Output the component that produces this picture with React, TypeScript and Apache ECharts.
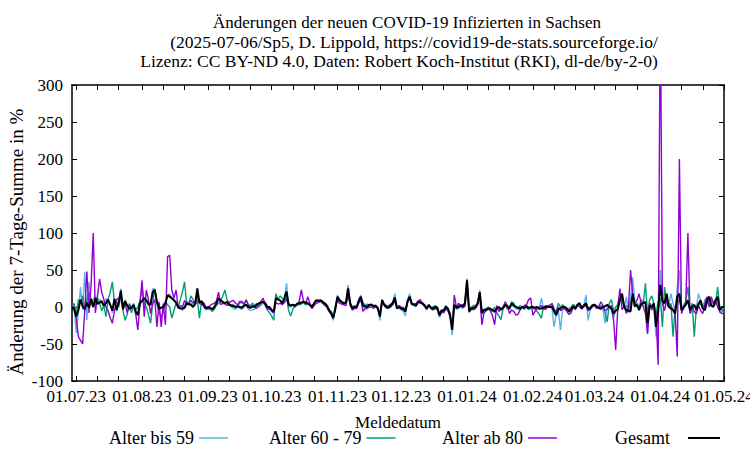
import React, { useEffect, useRef } from "react";
import * as echarts from "echarts";

const DAY_COUNT = 308; // 29.06.23 .. 01.05.24
const tickLabels = ["01.07.23", "01.08.23", "01.09.23", "01.10.23", "01.11.23", "01.12.23", "01.01.24", "01.02.24", "01.03.24", "01.04.24", "01.05.24"];
const tickDays = ["01", "11", "21"];
const seriesNames = ["Alter bis 59", "Alter 60 - 79", "Alter ab 80", "Gesamt"];
const seriesColors = ["#56b4e9", "#009e73", "#9400d3", "#000000"];
const titleLines = [
  "Änderungen der neuen COVID-19 Infizierten in Sachsen",
  "(2025-07-06/Sp5, D. Lippold, https://covid19-de-stats.sourceforge.io/",
  "Lizenz: CC BY-ND 4.0, Daten: Robert Koch-Institut (RKI), dl-de/by-2-0)",
];
const yAxisTitle = "Änderung der 7-Tage-Summe in %";
const xAxisTitle = "Meldedatum";

const alterBis59 = [
  0, 0, -35, -8, 27, -4, 47, -18, 34, 5, 10, 15,
  8, 10, 5, 0, 12, 8, 5, -8, 12, -6, 8, 25, -5, 10, 0, -4,
  -3, 5, -8, -10, 8, 10, 12, 8, 2, 5, 25, 22, 5, -5, 0, -2, 8, 14, 18, 10, 12, 5, -2, 0, -5, 2, 8, 2, 5,
  2, 5, 22, 4, 8, 0, -4, -2, -3, -5, -2, 4, 10, 8, 5, 5, 6, 2, 0, -2, -3, 0, -2, -3, 0, 2, -3, -5, -4,
  -3, 2, 4, 5, 8, 4, -2, -3, -5, -8, 10, 12, 8, 5, 10, 32, 0, 0, 2, 0, 2, 4, 5, 8, 5, 4, 2,
  -2, 6, 10, 8, 10, 8, 4, 0, -6, -10, -18, 0, 16, 10, 8, 4, 8, 30, 4, -4, -2, 0, 10, 16, 0, -2, -3, 2,
  2, 0, 0, -3, -18, 10, 2, -2, -2, 0, 5, 18, 0, -2, -4, -6, -12, 10, 18, 5, 2, 0, 8, 5, 4, 0, -4, 2,
  -3, -4, -2, -3, -14, -8, -6, -2, -4, -14, -38, 2, -3, -2, 0, -2, 4, 32, -8, -4, -2, -2, 6, 23, -10, -6, -5, -3,
  -4, -6, -8, -3, -2, -5, -3, 2, 0, -4, 3, 0, -2, -3, -4, 0, -3, 0, -4, -2, -2, -3, -2, -4, 12, -2, -1, 0,
  0, -2, -27, -10, -5, -31, -4, -2, -6, -10, -3, 0, -4, 4, 6, -4, 2, 16, -18, -4, 2, 4, 0, -2, -4, -2, -22, 2,
  0, -4, -15, -2, 5, 18, 10, -2, 14, -8, 10, 40, 8, 5, -5, 6, 2, 0, -36, 5, 2, 0, -40, -10, 50, 10, 8, 15, 2,
  18, 5, -5, 27, 50, 0, -4, 5, 10, -8, -6, 2, 0, 18, 8, 0, 10, 12, 14, 0, 5, 10, 9, -8, -4, 0,
];

const alter60bis79 = [
  0, 5, -10, 10, 5, 15, -5, 10, 20, 5, 0, 10,
  12, 5, -5, 2, -13, 10, 20, 34, 5, 8, 0, 15, -5, -18, -10, 5,
  -8, 2, -4, 0, 8, 27, 5, 0, -10, -22, 5, 25, 5, -8, -14, -5, 8, 3, 0, -15, -5, 5, 0, 10, 20, 34, 3, 5, 15,
  10, 3, 10, -15, 8, 5, 0, -3, -2, -6, -3, 2, 5, 8, 15, 23, 10, 5, 2, 3, 0, 2, 5, 8, 4, 10, 3, 2, 5,
  2, 5, 0, 3, 6, 2, -4, -8, -12, -18, 18, 10, 15, 12, 8, 14, -5, -12, -3, 2, 5, 3, 4, 6, 3, 4, 2,
  2, 3, 8, 10, 8, 5, 4, 0, -3, -6, -12, 0, 12, 8, 5, 6, 4, 18, 6, 0, 2, 0, 10, 12, 6, 2, 4, 2,
  4, 2, 0, -2, -10, 8, 3, 0, 2, 4, 6, 12, -2, 0, -2, 0, -4, 6, 12, 3, 4, 4, 6, 8, 4, 3, 0, 2,
  -1, 0, 2, 0, -8, -4, -4, 2, -2, -8, -26, 2, 0, 2, 3, 2, 6, 38, -4, 0, 2, 2, 4, 16, -6, -3, -2, 0,
  -4, -6, 0, -8, -12, -17, -2, 2, -3, 0, 7, 5, 0, -2, 2, 0, -3, 2, 0, -2, 0, -3, -6, -10, -15, 0, 2, 0,
  3, 4, -5, -6, 5, 0, 3, 0, -4, -2, 0, 4, 0, 2, 4, 0, 3, 2, -4, 0, 3, 2, 0, -2, 2, 0, -8, -20,
  5, 10, -5, 0, 2, 8, 12, 0, 2, -5, 8, 15, 0, 5, 0, 10, 5, 32, -10, 10, 15, 3, -10, 8, 12, -27, 27, 5, 0,
  5, -40, 0, 5, 10, -5, 2, 8, 27, -5, 5, -40, 0, 5, 3, 0, -5, 5, 10, 8, 5, 3, 27, 0, -4, -8,
];

const alterAb80 = [
  0, 0, -15, -40, -45, -50, -5, 48, -8, 30, 100, -8,
  15, 38, 20, 10, 0, -5, -15, -22, -5, 10, 12, 15, 0, 5, -8, 3,
  0, 2, -10, -31, 5, 36, -13, 23, 10, -9, 5, 10, -27, 7, -27, 5, -24, 68, 70, 23, 12, 23, -2, 2, 0, 9, 4, 5, 9,
  5, 8, 15, 5, 3, 6, 0, -3, 2, 4, 5, 8, 20, 3, 5, 4, 2, 6, 8, 9, 5, 3, 8, 6, 4, 9, 3, -2, 2,
  0, -2, 3, 8, 12, 3, -3, -2, -6, -8, 6, 4, 5, 3, 6, 10, 5, 2, 3, 0, 4, 8, 23, 8, 4, 14, 5,
  -2, 2, 5, 6, 8, 5, 2, 0, -6, -10, -14, -4, 10, 5, 4, 3, 2, 18, 2, -4, -2, -2, 5, 10, -6, -2, -1, 0,
  0, -2, 2, 0, -10, 10, 4, 2, 0, 0, 3, 8, 0, 2, 0, -2, -4, 6, 12, 5, 4, 5, 8, 10, 4, 3, -3, 2,
  -2, -4, -2, -3, -12, -6, -8, -3, -5, -12, -28, 16, 0, 5, 2, 3, 0, 27, -5, -2, -4, -2, 3, 15, -24, -8, -5, -2,
  -5, -12, -24, 2, -6, -3, 0, 7, 2, -9, -4, -6, -11, -10, -4, 0, 2, 3, 10, 12, -11, -6, -2, 0, 2, -2, -3, 0,
  0, 5, -2, -8, 0, -5, -3, -2, -6, -10, -8, 0, -3, 2, 0, -2, 0, 2, -5, -3, 0, 2, -2, 0, 7, 2, -5, -3,
  0, 2, -18, -58, 0, 25, -4, 2, -9, 0, 50, 18, 5, 9, 18, 5, 0, -9, -36, 5, -4, 2, -9, -78, 420, 5, -5, 10, 0,
  2, -4, -10, -67, 200, -9, 0, 5, 100, -9, 0, -6, -9, 2, -5, -9, 5, 14, 0, 14, 5, 9, 0, -6, -9, -8,
];

const gesamt = [
  0, -3, -13, -4, 10, 1, -3, 6, -1, 11, 0, 12,
  4, 6, 8, 2, 5, 10, 3, -5, 11, -4, 6, 22, -3, 8, 2, -2,
  -1, 3, -6, -11, 5, 8, 12, 9, 4, 3, 20, 23, 7, -2, -1, 0, 5, 16, 14, 12, 9, 6, 0, -2, -2, -1, 5, 4, 3,
  0, 4, 25, 6, 8, 2, -2, 0, -1, -3, 0, 5, 12, 9, 7, 5, 7, 3, 2, 1, 0, 1, 0, -1, 2, 3, 0, -1, 1,
  0, 3, 5, 6, 7, 5, 0, 0, -4, -6, 12, 10, 9, 5, 12, 21, 3, 2, 3, 2, 4, 5, 6, 7, 6, 5, 3,
  0, 5, 9, 8, 9, 7, 5, 2, -4, -8, -15, -2, 14, 9, 7, 5, 6, 25, 5, -2, 0, 0, 8, 14, 2, 1, 0, 3,
  3, 1, 2, -2, -13, 9, 3, 0, -1, 2, 5, 13, -2, 0, -2, -3, -6, 8, 14, 4, 3, 2, 7, 6, 5, 2, -2, 3,
  -1, -2, 0, -1, -11, -5, -5, 0, -2, -11, -31, 3, -1, 0, 2, 0, 5, 36, -6, -2, -1, 0, 5, 20, -8, -4, -4, -2,
  -2, -4, -6, -2, 0, -3, -1, 3, 1, -2, 5, 2, 0, -1, -2, 0, -1, 1, -2, 0, 0, -1, 0, -2, -2, -1, 0, 1,
  0, 0, -6, -11, -3, -2, 0, 0, -2, -6, -3, 1, -2, 3, 5, -2, 2, 5, -2, -2, 2, 3, 1, -1, -2, 0, 1, 3,
  0, -2, -9, -5, -3, 10, 18, 0, -4, -5, -6, 18, 1, 3, -4, 4, 5, 7, -22, 2, 0, 5, -27, -5, 30, 8, 5, 18, 0,
  -2, -4, -9, 14, 18, -4, 0, 3, 9, -4, 0, 3, -4, 4, 9, -2, -4, 9, 14, 2, 0, 9, 14, -4, 0, 0,
];

const allSeries = [alterBis59, alter60bis79, alterAb80, gesamt];

function buildDates(): string[] {
  const out: string[] = [];
  const t0 = Date.UTC(2023, 5, 29);
  for (let i = 0; i < DAY_COUNT; i++) {
    const d = new Date(t0 + i * 86400000);
    const dd = String(d.getUTCDate()).padStart(2, "0");
    const mm = String(d.getUTCMonth() + 1).padStart(2, "0");
    const yy = String(d.getUTCFullYear() % 100).padStart(2, "0");
    out.push(`${dd}.${mm}.${yy}`);
  }
  return out;
}

const FONT = "'Liberation Serif', 'Times New Roman', serif";

export default function App() {
  const ref = useRef<HTMLDivElement>(null);
  useEffect(() => {
    if (!ref.current) return;
    const chart = echarts.init(ref.current, undefined, { renderer: "svg" });
    const dates = buildDates();
    const isTick = (_i: number, v: string) => tickDays.includes(String(v).slice(0, 2));
    const isLabel = (_i: number, v: string) => tickLabels.includes(String(v));
    const axisLine = { show: true, onZero: false, lineStyle: { color: "#000", width: 1.5 } };
    const textStyle = { fontFamily: FONT, fontSize: 17, color: "#000" };
    const legendLefts = [109, 269, 442, 615];
    const legendPadRight = [0, 0, 0, 13];
    const titleCenters = [407, 414, 399];
    const titleSizes = [17, 17.5, 17.5];
    chart.setOption({
      animation: false,
      backgroundColor: "#fff",
      title: titleLines.map((t, i) => ({
        text: t,
        left: titleCenters[i],
        textAlign: "center",
        top: 13 + i * 19,
        padding: 0,
        textStyle: { ...textStyle, fontSize: titleSizes[i], fontWeight: "normal", lineHeight: 19 },
      })),
      legend: seriesNames.map((n, i) => ({
        data: [n],
        left: legendLefts[i],
        top: 429,
        align: "right",
        padding: 0,
        icon: "rect",
        itemWidth: i === 3 ? 32 : 29,
        itemHeight: i === 3 ? 2 : 1.5,
        itemGap: 0,
        selectedMode: false,
        textStyle: { ...textStyle, fontSize: 18, padding: [0, legendPadRight[i], 0, 0] },
      })),
      grid: { left: 72, right: 26, top: 85, bottom: 69, containLabel: false, outerBoundsMode: "none" },
      xAxis: [
        {
          type: "category",
          data: dates,
          boundaryGap: false,
          position: "bottom",
          axisLine,
          axisTick: { show: true, inside: true, length: 5, interval: isTick, lineStyle: { color: "#000", width: 1 } },
          axisLabel: { interval: isLabel, margin: 7, hideOverlap: false, ...textStyle },
          splitLine: { show: false },
          name: xAxisTitle,
          nameLocation: "middle",
          nameGap: 33,
          nameTextStyle: textStyle,
        },
        {
          type: "category",
          data: dates,
          boundaryGap: false,
          position: "top",
          axisLine,
          axisTick: { show: true, inside: true, length: 5, interval: isTick, lineStyle: { color: "#000", width: 1 } },
          axisLabel: { show: false },
          splitLine: { show: false },
        },
      ],
      yAxis: [
        {
          type: "value",
          min: -100,
          max: 300,
          interval: 50,
          position: "left",
          axisLine,
          axisTick: { show: true, inside: true, length: 5, lineStyle: { color: "#000", width: 1 } },
          axisLabel: { margin: 9, ...textStyle },
          splitLine: { show: false },
        },
        {
          type: "value",
          min: -100,
          max: 300,
          interval: 50,
          position: "right",
          axisLine,
          axisTick: { show: true, inside: true, length: 5, lineStyle: { color: "#000", width: 1 } },
          axisLabel: { show: false },
          splitLine: { show: false },
        },
      ],
      graphic: [
        {
          type: "text",
          x: 16,
          y: 242,
          rotation: Math.PI / 2,
          style: {
            text: yAxisTitle,
            font: `19px ${FONT}`,
            fill: "#000",
            textAlign: "center",
            textVerticalAlign: "middle",
          },
        },
      ],
      series: allSeries.map((data, i) => ({
        name: seriesNames[i],
        type: "line",
        data,
        xAxisIndex: 0,
        yAxisIndex: 0,
        symbol: "none",
        showSymbol: false,
        clip: true,
        color: seriesColors[i],
        lineStyle: { color: seriesColors[i], width: i === 3 ? 2 : 1.4 },
        z: 2 + i,
      })),
    });
    return () => chart.dispose();
  }, []);
  return <div ref={ref} style={{ position: "fixed", left: 0, top: 0, width: 750, height: 450 }} />;
}
